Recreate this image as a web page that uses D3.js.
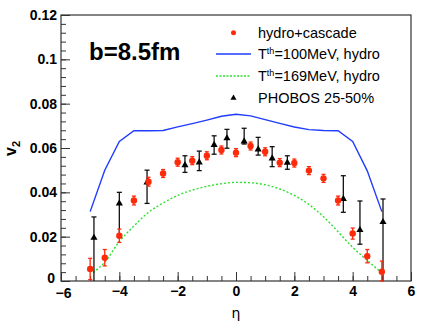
<!DOCTYPE html>
<html><head><meta charset="utf-8">
<script src="https://cdn.jsdelivr.net/npm/d3@7"></script>
<style>body{margin:0;background:#fff}svg{display:block}</style>
</head><body>
<svg id="c" width="436" height="326"></svg>
<script>
// hydro+cascade (red)
const cascEta = [-5,-4.5,-4,-3.5,-3,-2.5,-2,-1.5,-1,-0.5,0,0.5,1,1.5,2,2.5,3,3.5,4,4.5,5];
const cascV   = [0.0054,0.0105,0.0204,0.0363,0.0448,0.0485,0.0536,0.0543,0.0565,0.0591,0.0579,0.0609,0.0583,0.0534,0.0532,0.0498,0.0463,0.0363,0.0214,0.0112,0.0042];
const cascErr = [0.0048,0.0037,0.003,0.002,0.002,0.0018,0.0018,0.0018,0.0018,0.0018,0.0018,0.0018,0.0018,0.0018,0.0018,0.0018,0.0018,0.002,0.0025,0.003,0.0048];
// PHOBOS 25-50% (black)
const phoEta = [-4.87,-4.0,-3.05,-1.75,-1.26,-0.75,-0.31,0.28,0.76,1.24,1.76,3.68,4.25,5.04];
const phoV   = [0.0195,0.035,0.0445,0.0523,0.0535,0.0614,0.0644,0.063,0.0594,0.0553,0.0534,0.037,0.023,0.0266];
const phoLo  = [0.0,0.0197,0.035,0.049,0.0498,0.0572,0.0599,0.0618,0.0568,0.0516,0.0504,0.031,0.0166,0.0];
const phoHi  = [0.0289,0.040,0.050,0.0565,0.0586,0.0655,0.0684,0.0689,0.0648,0.0606,0.0565,0.0475,0.0361,0.037];
// T_th = 100 MeV hydro (blue)
const blueEta = [-5,-4.5,-4,-3.5,-3,-2.5,-2,-1.5,-1,-0.5,0,0.5,1,1.5,2,2.5,3,3.5,4,4.5,5];
const blueV   = [0.0313,0.050,0.063,0.0678,0.0678,0.0679,0.0695,0.071,0.0726,0.0743,0.0752,0.0745,0.0728,0.0711,0.0695,0.0683,0.0679,0.0678,0.063,0.0497,0.0313];
// T_th = 169 MeV hydro (green)
const greenEta = [-4.9,-4.5,-4,-3.5,-3,-2.5,-2,-1.5,-1,-0.5,0,0.5,1,1.5,2,2.5,3,3.5,4,4.5,4.95];
const greenV   = [0.0038,0.0085,0.0178,0.0248,0.031,0.0352,0.0386,0.041,0.0427,0.0439,0.0445,0.0443,0.0434,0.0415,0.0386,0.0345,0.029,0.0222,0.0152,0.0093,0.0042];
// axis ticks
const xMajor = [-6,-4,-2,0,2,4,6];
const xMinor = d3.range(-6,6.01,0.5);
const yMajor = [0,0.02,0.04,0.06,0.08,0.1,0.12];
const yMinor = d3.range(0,0.1201,0.004);
const yTickLabels = ["0","0.02","0.04","0.06","0.08","0.1","0.12"];
const legendLabels = ["hydro+cascade","=100MeV, hydro","=169MeV, hydro","PHOBOS 25-50%"];

const svg = d3.select("#c");
const L=61,R=411,T=15,B=281;
const x = d3.scaleLinear().domain([-6,6]).range([L,R]);
const y = d3.scaleLinear().domain([0,0.12]).range([B,T]);
const font = "'Liberation Sans', Arial, Helvetica, sans-serif";
const red = "#ff2a0a", blue = "#1f3cff", green = "#2ee02e";

// axes
const gx = svg.append("g").attr("transform",`translate(0,${B})`);
gx.call(d3.axisBottom(x).tickValues(xMinor).tickSize(-5).tickFormat(""));
const gx2 = svg.append("g").attr("transform",`translate(0,${B})`);
gx2.call(d3.axisBottom(x).tickValues(xMajor).tickSize(-9).tickPadding(5).tickFormat(d3.format("d")));
const gy = svg.append("g").attr("transform",`translate(${L},0)`);
gy.call(d3.axisLeft(y).tickValues(yMinor).tickSize(-5).tickFormat(""));
const gy2 = svg.append("g").attr("transform",`translate(${L},0)`);
gy2.call(d3.axisLeft(y).tickValues(yMajor).tickSize(-9).tickPadding(4).tickFormat((d,i)=>yTickLabels[i]));
svg.selectAll(".domain").remove();
svg.selectAll(".tick line").attr("stroke","#333").attr("stroke-width",1);
svg.selectAll(".tick text").attr("font-family",font).attr("font-size",14).attr("font-weight","bold").attr("fill","#000");
// keep the corner labels "0" and "-6" from colliding
gy2.selectAll(".tick text").filter(d=>d===0).attr("dx",-2).attr("dy","0.1em");
gx2.selectAll(".tick text").filter(d=>d===-6).attr("dx",2).attr("dy","0.85em");

// frame
svg.append("rect").attr("x",L).attr("y",T).attr("width",R-L).attr("height",B-T)
  .attr("fill","none").attr("stroke","#333").attr("stroke-width",1.2);

// curves
const line = d3.line().x(d=>x(d[0])).y(d=>y(d[1]));
svg.append("path").datum(blueEta.map((e,i)=>[e,blueV[i]])).attr("d",line)
  .attr("fill","none").attr("stroke",blue).attr("stroke-width",1.4);
svg.append("path").datum(greenEta.map((e,i)=>[e,greenV[i]])).attr("d",line.curve(d3.curveMonotoneX))
  .attr("fill","none").attr("stroke",green).attr("stroke-width",1.4).attr("stroke-dasharray","2,2");

// PHOBOS error bars & triangles
const tri = d3.symbol().type(d3.symbolTriangle).size(22);
phoEta.forEach((e,i)=>{
  const g = svg.append("g").attr("stroke","#111").attr("stroke-width",1.3);
  g.append("line").attr("x1",x(e)).attr("x2",x(e)).attr("y1",y(phoLo[i])).attr("y2",y(phoHi[i]));
  g.append("line").attr("x1",x(e)-2.5).attr("x2",x(e)+2.5).attr("y1",y(phoHi[i])).attr("y2",y(phoHi[i]));
  if (phoLo[i]>0) g.append("line").attr("x1",x(e)-2.5).attr("x2",x(e)+2.5).attr("y1",y(phoLo[i])).attr("y2",y(phoLo[i]));
  svg.append("path").attr("d",tri).attr("transform",`translate(${x(e)},${y(phoV[i])})`).attr("fill","#000");
});

// cascade error bars & dots
cascEta.forEach((e,i)=>{
  const lo = Math.max(0,cascV[i]-cascErr[i]), hi = cascV[i]+cascErr[i];
  const g = svg.append("g").attr("stroke",red).attr("stroke-width",1.3);
  g.append("line").attr("x1",x(e)).attr("x2",x(e)).attr("y1",y(lo)).attr("y2",y(hi));
  g.append("line").attr("x1",x(e)-2).attr("x2",x(e)+2).attr("y1",y(hi)).attr("y2",y(hi));
  g.append("line").attr("x1",x(e)-2).attr("x2",x(e)+2).attr("y1",y(lo)).attr("y2",y(lo));
  svg.append("circle").attr("cx",x(e)).attr("cy",y(cascV[i])).attr("r",3.2).attr("fill",red);
});

// legend
const lgX1=216, lgX2=251, lgTx=258, lgY=[32.7,54,76,98];
svg.append("circle").attr("cx",(lgX1+lgX2)/2).attr("cy",lgY[0]).attr("r",2.5).attr("fill",red);
svg.append("line").attr("x1",lgX1).attr("x2",lgX2).attr("y1",lgY[1]).attr("y2",lgY[1]).attr("stroke",blue).attr("stroke-width",1.4);
svg.append("line").attr("x1",lgX1).attr("x2",lgX2).attr("y1",lgY[2]).attr("y2",lgY[2]).attr("stroke",green).attr("stroke-width",1.4).attr("stroke-dasharray","2,1.5");
svg.append("path").attr("d",d3.symbol().type(d3.symbolTriangle).size(16)).attr("transform",`translate(${(lgX1+lgX2)/2},${lgY[3]})`).attr("fill","#000");
legendLabels.forEach((t,i)=>{
  const tx = svg.append("text").attr("x",lgTx).attr("y",lgY[i]+5).attr("font-family",font).attr("font-size",14.5).attr("fill","#000");
  if (i===1||i===2){
    tx.append("tspan").text("T");
    tx.append("tspan").attr("dy",-5).attr("font-size",9).text("th");
    tx.append("tspan").attr("dy",5).text(t);
  } else tx.text(t);
});

// annotation
svg.append("text").attr("x",89).attr("y",60).attr("font-family",font).attr("font-size",24).attr("font-weight","bold").text("b=8.5fm");

// axis titles
svg.append("text").attr("x",236).attr("y",318).attr("text-anchor","middle").attr("font-family","'DejaVu Sans', sans-serif").attr("font-size",14).text("η");
const yt = svg.append("text").attr("transform","translate(16,156) rotate(-90)").attr("font-family",font).attr("font-size",16).attr("font-weight","bold");
yt.append("tspan").text("v");
yt.append("tspan").attr("dy",4).attr("font-size",11).text("2");
</script>
</body></html>
